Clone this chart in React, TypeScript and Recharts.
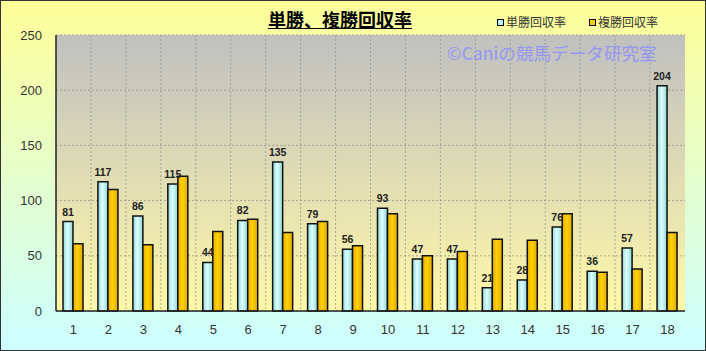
import { BarChart, Bar, XAxis, YAxis, CartesianGrid, LabelList } from 'recharts';

const races = ['1', '2', '3', '4', '5', '6', '7', '8', '9', '10', '11', '12', '13', '14', '15', '16', '17', '18'];
const winReturn = [81, 117, 86, 115, 44, 82, 135, 79, 56, 93, 47, 47, 21, 28, 76, 36, 57, 204];
const placeReturn = [61, 110, 60, 122, 72, 83, 71, 81, 59, 88, 50, 54, 65, 64, 88, 35, 38, 71];
const yTicks = [0, 50, 100, 150, 200, 250];

const data = races.map((race, i) => ({ race, win: winReturn[i], place: placeReturn[i] }));

const JP = '"Noto Sans CJK JP", "Liberation Sans", sans-serif';
const SANS = '"Liberation Sans", Arial, sans-serif';

// legend drawn by hand, small bordered squares like the original
const LegendBox = () => (
  <div
    style={{
      position: 'absolute', left: 496, top: 11, display: 'flex', gap: 23,
      fontFamily: JP, fontSize: 12, color: '#333', lineHeight: '20px',
    }}
  >
    {[{ c: '#bff2f2', t: '単勝回収率' }, { c: '#ffcc00', t: '複勝回収率' }].map((it) => (
      <span key={it.t} style={{ display: 'flex', alignItems: 'center' }}>
        <span style={{ width: 5, height: 5, border: '1.5px solid #000', background: it.c, marginRight: 2 }} />
        {it.t}
      </span>
    ))}
  </div>
);

export default function App() {
  return (
    <div
      style={{
        position: 'absolute', left: 0, top: 0, width: 706, height: 351, boxSizing: 'border-box',
        border: '1px solid #333', background: 'linear-gradient(#ffff99, #ccffff)',
      }}
    >
      <div
        style={{
          position: 'absolute', left: 267, top: 6, fontFamily: JP, fontSize: 18, fontWeight: 'bold',
          textDecoration: 'underline', color: '#000', lineHeight: '24px',
        }}
      >
        単勝、複勝回収率
      </div>
      <LegendBox />
      <BarChart
        width={704}
        height={349}
        data={data}
        margin={{ top: 34, right: 20, left: 0, bottom: 0 }}
        barGap={0}
        barCategoryGap="20%"
      >
        <defs>
          <linearGradient id="plotBg" x1="0" y1="0" x2="0" y2="1">
            <stop offset="0%" stopColor="#c0c0c0" />
            <stop offset="100%" stopColor="#fff8a8" />
          </linearGradient>
          <linearGradient id="winFill" x1="0" y1="0" x2="1" y2="0">
            <stop offset="0%" stopColor="#8fd6d6" />
            <stop offset="45%" stopColor="#ddffff" />
            <stop offset="100%" stopColor="#8fd6d6" />
          </linearGradient>
          <linearGradient id="placeFill" x1="0" y1="0" x2="1" y2="0">
            <stop offset="0%" stopColor="#e6aa00" />
            <stop offset="45%" stopColor="#ffd200" />
            <stop offset="100%" stopColor="#e0a800" />
          </linearGradient>
        </defs>
        <CartesianGrid
          fill="url(#plotBg)"
          stroke="#8a8a8a"
          strokeOpacity={0.7}
          strokeDasharray="2 2"
          verticalCoordinatesGenerator={({ offset }) =>
            races.map((_, i) => offset.left + (i * offset.width) / races.length).slice(1)
          }
        />
        <XAxis
          dataKey="race"
          height={39}
          tickLine={false}
          axisLine={{ stroke: '#222', strokeWidth: 1.5 }}
          tick={{ fill: '#333', fontSize: 13, fontFamily: SANS }}
          tickMargin={8}
        />
        <XAxis xAxisId="top" orientation="top" dataKey="race" height={0} tick={false} tickLine={false} axisLine={{ stroke: '#888' }} />
        <YAxis
          width={55}
          domain={[0, 250]}
          ticks={yTicks}
          tickLine={false}
          axisLine={{ stroke: '#222', strokeWidth: 1.5 }}
          tick={{ fill: '#333', fontSize: 13, fontFamily: SANS }}
          tickMargin={8}
        />
        <YAxis yAxisId="right" orientation="right" width={0} tick={false} tickLine={false} axisLine={{ stroke: '#888' }} />
        <Bar dataKey="win" name="単勝回収率" fill="url(#winFill)" stroke="#111" strokeWidth={1.5} isAnimationActive={false}>
          <LabelList
            dataKey="win"
            position="top"
            offset={6}
            style={{ fill: '#222', fontSize: 10.5, fontWeight: 'bold', fontFamily: SANS }}
          />
        </Bar>
        <Bar dataKey="place" name="複勝回収率" fill="url(#placeFill)" stroke="#111" strokeWidth={1.5} isAnimationActive={false} />
      </BarChart>
      <div
        style={{
          position: 'absolute', left: 446, top: 40, fontFamily: JP, fontSize: 17.6,
          color: '#9496f2', whiteSpace: 'nowrap', lineHeight: '24px',
        }}
      >
        ©Caniの競馬データ研究室
      </div>
    </div>
  );
}
